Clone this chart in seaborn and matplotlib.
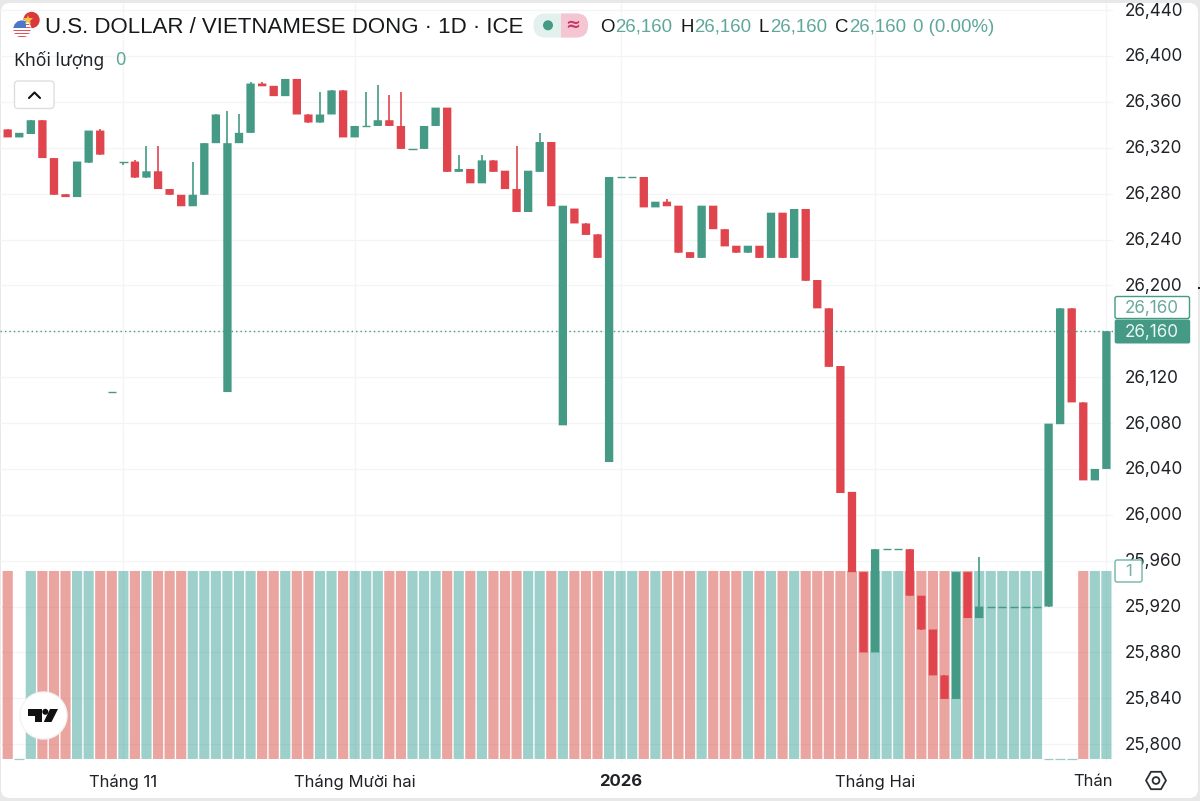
import numpy as np
import pandas as pd
import matplotlib
matplotlib.use("Agg")
import matplotlib.pyplot as plt
from matplotlib.patches import Circle, FancyBboxPatch, Polygon, Rectangle
from matplotlib.transforms import ScaledTranslation
import seaborn as sns

# Daily USD/VND candles
opens = [26336, 26329, 26332, 26344, 26311, 26279.5, 26277, 26307, 26335, 26107,
         26308, 26308, 26294, 26299.5, 26284, 26279, 26269, 26279, 26324, 26107,
         26324, 26333, 26376, 26374, 26365, 26380, 26349, 26342, 26349, 26370,
         26329, 26339.4, 26339, 26344, 26339, 26319, 26319, 26339, 26355, 26299,
         26301.5, 26289, 26309, 26300, 26284, 26264, 26299, 26325, 26078, 26267,
         26254, 26244.5, 26046, 26294.5, 26294.5, 26294.5, 26268, 26273, 26269.5, 26229,
         26224, 26269.5, 26249, 26234.6, 26228.5, 26234.6, 26224, 26263.4, 26224, 26266.6,
         26204.7, 26180, 26129.7, 26020, 25950, 25880, 25970, 25970, 25970, 25929.5,
         25900, 25860, 25839.5, 25950, 25910, 25920, 25920, 25920, 25920, 25920,
         25920, 26079, 26180, 26098, 26030, 26040]
closes = [26329, 26333, 26344, 26311, 26279, 26277, 26308, 26335, 26314, 26107,
          26308, 26294, 26299.5, 26284, 26279, 26269, 26279, 26324, 26349, 26324,
          26333, 26376, 26373.6, 26365, 26380, 26349, 26342, 26349, 26370, 26329,
          26339, 26339.4, 26344, 26339, 26319, 26319, 26339, 26355, 26299, 26301.5,
          26289, 26309, 26299, 26284, 26264, 26300, 26325, 26269, 26269.5, 26254,
          26244, 26224, 26294.5, 26294.5, 26294.5, 26268, 26273, 26269, 26228.5, 26224,
          26269.5, 26249, 26234, 26228.5, 26234.6, 26224, 26263.4, 26224, 26266.6, 26204,
          26180, 26129, 26019, 25950, 25880, 25970, 25970, 25970, 25929.5, 25900,
          25860, 25839.5, 25950, 25910, 25920, 25920, 25920, 25920, 25920, 25920,
          26079.5, 26180, 26098, 26030, 26040, 26160]
highs = [26336, 26333, 26344, 26344, 26311, 26279.5, 26308, 26335, 26336, 26107,
         26308, 26309, 26321.5, 26321.5, 26284, 26279, 26308, 26324, 26349, 26352,
         26349, 26377, 26377, 26374, 26380, 26380, 26349, 26369, 26370, 26370,
         26339, 26369, 26375, 26366, 26369, 26319, 26339, 26355, 26355, 26314,
         26301.5, 26314, 26309, 26300, 26321.5, 26300, 26333, 26325, 26269.5, 26267,
         26254, 26244.5, 26294.5, 26294.5, 26294.5, 26294.5, 26273, 26275, 26269.5, 26229,
         26269.5, 26269.5, 26249, 26234.6, 26234.6, 26234.6, 26263.4, 26263.4, 26266.6, 26266.6,
         26204.7, 26180, 26129.7, 26020, 25950, 25970, 25970, 25970, 25970, 25929.5,
         25900, 25860, 25950, 25950, 25963, 25920, 25920, 25920, 25920, 25920,
         26079.5, 26180, 26180, 26098, 26040, 26160]
lows = [26329, 26329, 26332, 26311, 26279, 26277, 26277, 26307, 26314, 26107,
        26305, 26294, 26294, 26284, 26279, 26269, 26269, 26279, 26324, 26107,
        26324, 26333, 26373.6, 26365, 26365, 26349, 26342, 26342, 26349, 26329,
        26329, 26339.4, 26339, 26339, 26319, 26319, 26319, 26339, 26299, 26299,
        26289, 26289, 26299, 26284, 26264, 26264, 26299, 26269, 26078, 26254,
        26244, 26224, 26046, 26294.5, 26294.5, 26268, 26268, 26269, 26228.5, 26224,
        26224, 26249, 26234, 26228.5, 26228.5, 26224, 26224, 26224, 26224, 26204,
        26180, 26129, 26019, 25950, 25880, 25880, 25970, 25970, 25929.5, 25900,
        25860, 25839.5, 25839.5, 25910, 25910, 25920, 25920, 25920, 25920, 25920,
        25920, 26079, 26098, 26030, 26030, 26040]

# Volume pane: one tick per session, zero when the feed had no prints
volumes = [1, 0, 1, 1, 1, 1, 1, 1, 1, 1, 1, 1, 1, 1, 1, 1, 1, 1, 1, 1, 1, 1, 1, 1,
           1, 1, 1, 1, 1, 1, 1, 1, 1, 1, 1, 1, 1, 1, 1, 1, 1, 1, 1, 1, 1, 1, 1, 1,
           1, 1, 1, 1, 1, 1, 1, 1, 1, 1, 1, 1, 1, 1, 1, 1, 1, 1, 1, 1, 1, 1, 1, 1,
           1, 1, 1, 1, 1, 1, 1, 1, 1, 1, 1, 1, 1, 1, 1, 1, 1, 1, 0, 0, 0, 1, 1, 1]
volume_sides = ["d", "u", "u", "d", "d", "d", "u", "u", "d", "d",
                "u", "d", "u", "d", "d", "d", "u", "u", "u", "u",
                "u", "u", "d", "d", "u", "d", "d", "u", "u", "d",
                "u", "u", "u", "d", "d", "u", "u", "u", "d", "u",
                "d", "u", "d", "d", "d", "u", "u", "d", "u", "d",
                "d", "d", "u", "u", "u", "d", "u", "d", "d", "d",
                "u", "d", "d", "d", "u", "d", "u", "d", "u", "d",
                "d", "d", "d", "d", "d", "u", "u", "u", "d", "d",
                "d", "d", "u", "d", "u", "u", "u", "u", "u", "u",
                "u", "u", "d", "d", "u", "u"]

price_ticks = [25800, 25840, 25880, 25920, 25960, 26000, 26040, 26080, 26120,
               26160, 26200, 26240, 26280, 26320, 26360, 26400, 26440]
month_positions = [10, 30, 53, 75, 95]
month_labels = ["Tháng 11", "Tháng Mười hai", "2026", "Tháng Hai", "Thán"]
last_price = 26160

UP = "#449a84"
DOWN = "#e0454e"
VOL_UP = "#3da199"
VOL_DOWN = "#d74d45"
GRID = "#f2f4f6"
INK = "#1f2226"
VALUE = "#5ea799"
LATIN = "Liberation Sans"
UI = "Inter"

sns.set_theme(style="white")
plt.rcParams["font.family"] = [UI, "DejaVu Sans"]

W, H = 1200, 801
fig = plt.figure(figsize=(W / 100, H / 100), dpi=100, facecolor="#e8e8e8")


def px_rect(x0, y0, x1, y1):
    return [x0 / W, 1 - y1 / H, (x1 - x0) / W, (y1 - y0) / H]


# White card behind the whole widget
card = fig.add_axes([0, 0, 1, 1], zorder=0)
card.set_xlim(0, W)
card.set_ylim(H, 0)
card.axis("off")
card.add_patch(FancyBboxPatch((1, 3), 1197, 795, boxstyle="round,pad=0,rounding_size=9", lw=0, fc="white"))

rect = px_rect(0, 3, 1113, 762)
xlim = (-0.666, 95.57)
ylim = (25784.5, 26446.2)

# Price scale and grid, lowest layer
ax_grid = fig.add_axes(rect, zorder=1)
ax_grid.patch.set_alpha(0)
ax_grid.set_xlim(*xlim)
ax_grid.set_ylim(*ylim)
ax_grid.set_yticks(price_ticks)
ax_grid.set_yticklabels(["" if t == last_price else f"{t:,}" for t in price_ticks], fontsize=12.3, color=INK)
ax_grid.yaxis.tick_right()
ax_grid.set_xticks(month_positions)
ax_grid.set_xticklabels(month_labels[:-1] + [""], fontsize=12, color=INK)
ax_grid.tick_params(axis="y", length=0, pad=8.3)
ax_grid.tick_params(axis="x", length=0, pad=9)
ax_grid.get_xticklabels()[2].set_fontweight("bold")
ax_grid.grid(True, color=GRID, lw=0.9)
sns.despine(ax=ax_grid, left=True, bottom=True, right=True, top=True)
ax_grid.text(1.0, -0.0255, month_labels[-1], transform=ax_grid.transAxes, ha="right", va="center",
             fontsize=12, color=INK)
nudge = ScaledTranslation(0, 1 / 100, fig.dpi_scale_trans)
for tick_label in ax_grid.get_yticklabels():
    tick_label.set_transform(tick_label.get_transform() + nudge)

# Volume pane
df = pd.DataFrame({"idx": np.arange(len(volumes)), "volume": volumes, "side": volume_sides})
ax_vol = fig.add_axes(rect, zorder=2)
ax_vol.patch.set_alpha(0)
sns.barplot(data=df, x="idx", y="volume", hue="side", palette={"u": VOL_UP, "d": VOL_DOWN},
            native_scale=True, dodge=False, width=0.88, alpha=0.5, saturation=1, errorbar=None,
            legend=False, linewidth=0, snap=False, ax=ax_vol)
quiet = df[df["volume"] == 0]
ax_vol.hlines(quiet["volume"], quiet["idx"] - 0.42, quiet["idx"] + 0.42, color="#9fc9c4", lw=0.9)
ax_vol.set_xlim(*xlim)
ax_vol.set_ylim(-0.016, 4.021)
ax_vol.axis("off")

# Candles on top
ax = fig.add_axes(rect, zorder=3)
ax.patch.set_alpha(0)
ax.set_xlim(*xlim)
ax.set_ylim(*ylim)
ax.axis("off")
o, c, hi, lo = map(np.array, (opens, closes, highs, lows))
idx = np.arange(len(o))
colors = np.where(c >= o, UP, DOWN)
ax.vlines(idx, lo, hi, colors=colors, lw=1.2)
body_low = np.minimum(o, c)
body_h = np.abs(c - o)
solid = body_h > 0
ax.bar(idx[solid], body_h[solid], bottom=body_low[solid], width=0.72, color=colors[solid], lw=0, snap=False)
ax.hlines(o[~solid], idx[~solid] - 0.36, idx[~solid] + 0.36, colors=colors[~solid], lw=1)
ax.plot([xlim[0], xlim[1]], [last_price, last_price], color=UP, lw=1, ls=(0, (1, 2.2)))

# Widget chrome in pixel coordinates
ui = fig.add_axes([0, 0, 1, 1], zorder=4)
ui.set_xlim(0, W)
ui.set_ylim(H, 0)
ui.axis("off")


def label(x, y, s, color=INK, size=12, family=UI, ha="left", va="center", **kw):
    ui.text(x, y, s, color=color, fontsize=size, family=family, ha=ha, va=va, **kw)


# Pair flags
ui.add_patch(Circle((31.5, 20), 8.2, fc="#d9393b", ec="none"))
ui.plot([27.8], [19.5], marker="*", ms=7, color="#f4c542", mew=0)
ui.add_patch(Circle((22, 29), 9.4, fc="white", ec="none"))
us_clip = Circle((22, 29), 8.6, fc="none", ec="none")
ui.add_patch(us_clip)
for k in range(6):
    st = Rectangle((13, 21 + k * 2.9), 18, 1.45, fc="#e2545a", ec="none")
    ui.add_patch(st)
    st.set_clip_path(us_clip)
canton = Rectangle((13, 20), 13, 8, fc="#4a78c8", ec="none")
ui.add_patch(canton)
canton.set_clip_path(us_clip)

label(45, 33, "U.S. DOLLAR / VIETNAMESE DONG · 1D · ICE", size=16.05, family=LATIN, color="#17181a",
      va="baseline")

# Market status pill
ui.add_patch(FancyBboxPatch((533.5, 13.5), 54.5, 24, boxstyle="round,pad=0,rounding_size=11.5", fc="#e3f1ee", lw=0))
right_half = FancyBboxPatch((533.5, 13.5), 54.5, 24, boxstyle="round,pad=0,rounding_size=11.5", fc="#f6c5d2", lw=0)
ui.add_patch(right_half)
right_half.set_clip_path(Rectangle((561, 10), 30, 30, transform=ui.transData))
ui.add_patch(Circle((548, 25.3), 5, fc=UP, ec="none"))
label(573, 25, "≈", color="#c43a66", size=13, ha="center", family="DejaVu Sans", fontweight="bold")

# OHLC readout, all on one baseline
for x, s in [(600, "O"), (680, "H"), (759, "L"), (835, "C")]:
    label(x, 31.5, s, size=13.4, family=LATIN, color="#17181a", va="baseline")
for x in (615, 694, 770, 849):
    label(x, 31.5, "26,160", color=VALUE, size=13.4, family=LATIN, va="baseline")
label(913, 31.5, "0 (0.00%)", color=VALUE, size=13.4, family=LATIN, va="baseline")

label(14, 60, "Khối lượng", size=12.6, family="Noto Sans", color="#1f2226")
label(115, 60, "0", size=13, family="Noto Sans", color=VALUE)

# Collapse button
ui.add_patch(FancyBboxPatch((14.5, 81), 39.5, 27.5, boxstyle="round,pad=0,rounding_size=3.5", fc="white",
                            ec="#dcdfe2", lw=1))
ui.plot([29, 34.5, 40], [98, 92.5, 98], color="#111", lw=1.5, solid_capstyle="round")

# Price scale badges
ui.add_patch(FancyBboxPatch((1115, 296.5), 74.5, 22, boxstyle="round,pad=0,rounding_size=2", fc="white",
                            ec=UP, lw=1))
label(1125, 308.5, "26,160", color="#6aa99c", size=12.3)
ui.add_patch(FancyBboxPatch((1114.7, 319.5), 75.5, 24, boxstyle="round,pad=0,rounding_size=2", fc=UP, lw=0))
label(1125, 332.5, "26,160", color="#eaf6f3", size=12.3)
ui.add_patch(FancyBboxPatch((1115, 560), 27, 22, boxstyle="round,pad=0,rounding_size=2", fc="white",
                            ec="#6fb5aa", lw=1))
label(1128.5, 572, "1", color="#79b3a8", ha="center")
ui.plot([1199], [288], marker="s", ms=2, color="#222", mew=0)

# Settings hexagon
hx, hy = 1156, 780.5
ui.add_patch(Polygon([(hx - 10, hy), (hx - 5, hy - 8.7), (hx + 5, hy - 8.7), (hx + 10, hy), (hx + 5, hy + 8.7),
                      (hx - 5, hy + 8.7)], closed=True, fc="none", ec="#2a2e33", lw=1.3, joinstyle="round"))
ui.add_patch(Circle((hx, hy), 3.4, fc="none", ec="#2a2e33", lw=1.3))

# Vendor badge
ui.add_patch(Circle((43.5, 715.5), 23.5, fc="white", ec="#f3f3f3", lw=1))
ui.add_patch(Polygon([(28, 709), (41.5, 709), (41.5, 722), (35, 722), (35, 715.5), (28, 715.5)], closed=True,
                     fc="#111", lw=0))
ui.add_patch(Circle((45.3, 711.8), 3, fc="#111", lw=0))
ui.add_patch(Polygon([(50, 709), (58, 709), (51.5, 722), (43.7, 722)], closed=True, fc="#111", lw=0))

fig.savefig("out.png", dpi=100, facecolor=fig.get_facecolor())
